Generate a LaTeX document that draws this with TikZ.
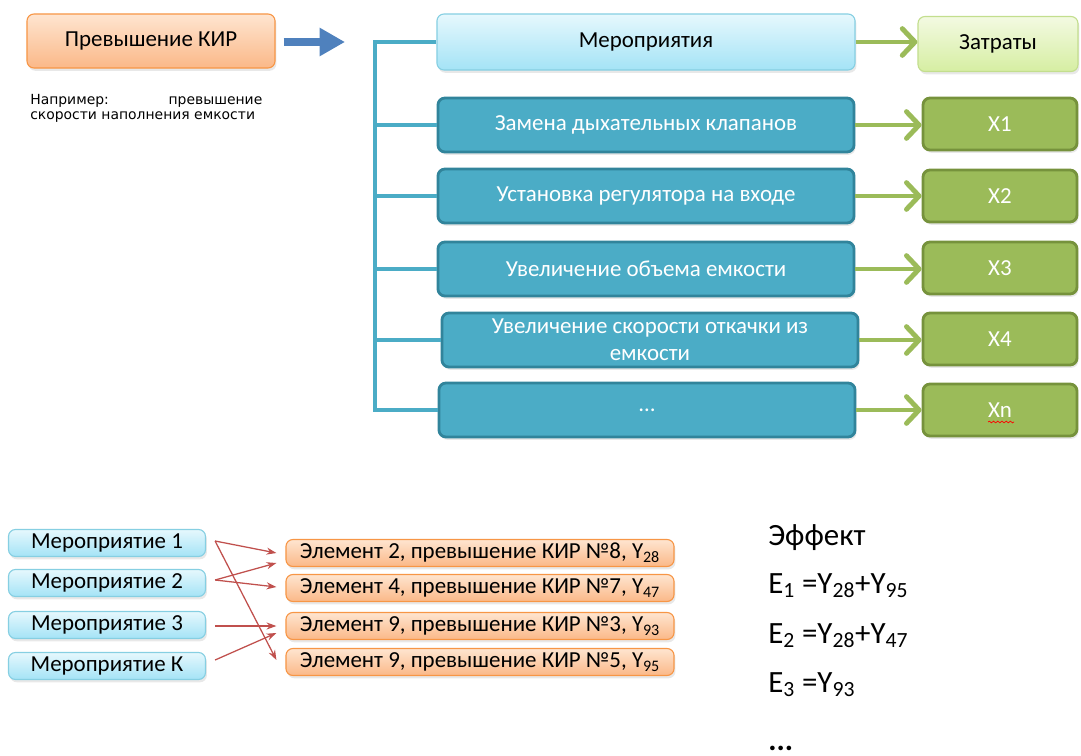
\documentclass[tikz,border=0pt]{standalone}
\usepackage{fontspec}
\setmainfont{Carlito}
\newfontfamily\notefont{DejaVu Sans}
\usetikzlibrary{shapes,arrows.meta,positioning,calc,shadows,decorations.pathmorphing}

\definecolor{kirline}{HTML}{F79646}
\definecolor{kirtop}{HTML}{FEE5D0}
\definecolor{kirbot}{HTML}{FBB888}
\definecolor{skyline}{HTML}{86CFE2}
\definecolor{skytop}{HTML}{E6F8FD}
\definecolor{skybot}{HTML}{A4E3F6}
\definecolor{tealfill}{HTML}{4BACC6}
\definecolor{tealline}{HTML}{31849B}
\definecolor{leaffill}{HTML}{9BBB59}
\definecolor{leafline}{HTML}{76923C}
\definecolor{limetop}{HTML}{F3FAE2}
\definecolor{limebot}{HTML}{D6EEA2}
\definecolor{limeline}{HTML}{C3DE8E}
\definecolor{arrowblue}{HTML}{4F81BD}
\definecolor{arrowred}{HTML}{C0504D}

\newcommand\boxfont{\fontsize{16.3}{19}\selectfont}
\newcommand\efffont{\fontsize{22}{26}\selectfont}

\tikzset{
    basebox/.style={rectangle, rounded corners=5pt, font=\boxfont, align=center, inner sep=2pt,
        drop shadow={shadow xshift=1pt, shadow yshift=-2pt, opacity=0.18}},
    orangebox/.style={basebox, draw=kirline, line width=0.8pt, top color=kirtop, bottom color=kirbot},
    skybox/.style={basebox, draw=skyline, line width=0.8pt, top color=skytop, bottom color=skybot},
    tealbox/.style={basebox, draw=tealline, line width=2pt, fill=tealfill, text=white,
        minimum width=10.4cm, minimum height=1.35cm},
    limebox/.style={basebox, draw=limeline, line width=0.8pt, top color=limetop, bottom color=limebot},
    leafbox/.style={basebox, draw=leafline, line width=2pt, fill=leaffill, text=white,
        minimum width=3.85cm, minimum height=1.3cm},
    busline/.style={draw=tealfill, line width=2.4pt},
    greenarrow/.style={draw=leaffill, line width=3.5pt, -{Straight Barb[length=9pt,width=19pt,round]}},
    bluearrow/.style={draw=arrowblue, line width=5.8pt, -{Triangle[length=18pt,width=19pt]}},
    redarrow/.style={draw=arrowred, line width=0.9pt, -{Stealth[length=7pt,width=5pt]}},
    efftext/.style={font=\efffont, anchor=base west, inner sep=0pt}
}

\begin{document}
\begin{tikzpicture}[x=0.025cm, y=-0.025cm]
    \useasboundingbox (0,0) rectangle (1081,756);

    % top left
    \node[orangebox, minimum width=6.2cm, minimum height=1.35cm] (kir) at (151,41) {Превышение КИР};
    \node[anchor=north west, inner sep=0pt, text width=5.8cm, align=justify,
          font=\notefont\fontsize{9.9}{10.8}\selectfont] (note) at (30,94)
          {Например: превышение скорости наполнения емкости};
    \coordinate (bluetip) at (345,42);
    \draw[bluearrow] ([shift={(8,1)}]kir.east) -- (bluetip);

    % measures
    \node[skybox, minimum width=10.45cm, minimum height=1.4cm] (act) at (646,42) {Мероприятия};
    \node[tealbox] (b1) at (646,125) {Замена дыхательных клапанов};
    \node[tealbox] (b2) at (646,196) {Установка регулятора на входе};
    \node[tealbox] (b3) at (646,269) {Увеличение объема емкости};
    \node[tealbox] (b4) at (650,340) {Увеличение скорости откачки из\\емкости};
    \node[tealbox] (dots) at (647,410) {…};

    \coordinate (bus) at (375,0);
    \draw[busline] (act.west) -| (bus |- dots.west) -- (dots.west);
    \foreach \n in {b1,b2,b3,b4}
        \draw[busline] (bus |- \n.west) -- (\n.west);

    % costs
    \node[limebox, minimum width=4cm, minimum height=1.375cm] (costs) at (998,44) {Затраты};
    \node[leafbox] (x1) at (1000,124) {X1};
    \node[leafbox] (x2) at (1000,196) {X2};
    \node[leafbox] (x3) at (1000,268) {X3};
    \node[leafbox] (x4) at (1000,339) {X4};
    \node[leafbox] (xn) at (1000,410) {Xn};
    \draw[red, line width=0.5pt, decorate, decoration={snake, amplitude=0.6pt, segment length=3pt}]
        ([shift={(-12,12)}]xn.center) -- ([shift={(14,12)}]xn.center);

    \draw[greenarrow] (act.east) -- (act.east -| costs.west);
    \foreach \a/\b in {b1/x1,b2/x2,b3/x3,b4/x4,dots/xn}
        \draw[greenarrow] (\a.east) -- (\a.east -| \b.west);

    % bottom left
    \node[skybox, minimum width=4.925cm, minimum height=0.675cm] (m1) at (107,543) {Мероприятие 1};
    \node[skybox, minimum width=4.925cm, minimum height=0.675cm] (m2) at (107,583) {Мероприятие 2};
    \node[skybox, minimum width=4.925cm, minimum height=0.675cm] (m3) at (107,625) {Мероприятие 3};
    \node[skybox, minimum width=4.925cm, minimum height=0.675cm] (mk) at (107,666) {Мероприятие К};

    \node[orangebox, minimum width=9.7cm, minimum height=0.675cm] (e1) at (480,553) {Элемент 2, превышение КИР №8, Y\textsubscript{28}};
    \node[orangebox, minimum width=9.7cm, minimum height=0.675cm] (e2) at (480,588) {Элемент 4, превышение КИР №7, Y\textsubscript{47}};
    \node[orangebox, minimum width=9.7cm, minimum height=0.675cm] (e3) at (480,626) {Элемент 9, превышение КИР №3, Y\textsubscript{93}};
    \node[orangebox, minimum width=9.7cm, minimum height=0.675cm] (e4) at (480,662) {Элемент 9, превышение КИР №5, Y\textsubscript{95}};

    \draw[redarrow] ([shift={(9,-2)}]m1.east) -- ([shift={(-9,0)}]e1.west);
    \draw[redarrow] ([shift={(9,-2)}]m1.east) -- ([shift={(-9,-2)}]e4.west);
    \draw[redarrow] ([shift={(9,-3)}]m2.east) -- ([shift={(-9,10)}]e1.west);
    \draw[redarrow] ([shift={(9,-3)}]m2.east) -- ([shift={(-9,-1)}]e2.west);
    \draw[redarrow] ([shift={(9,1)}]m3.east) -- ([shift={(-9,0)}]e3.west);
    \draw[redarrow] ([shift={(9,-6)}]mk.east) -- ([shift={(-9,7)}]e3.west);

    % effect
    \node[efftext] (eff) at (768,545) {Эффект};
    \node[efftext] (s1) at (768,593) {E\textsubscript{1} =Y\textsubscript{28}+Y\textsubscript{95}};
    \node[efftext] (s2) at (768,643) {E\textsubscript{2} =Y\textsubscript{28}+Y\textsubscript{47}};
    \node[efftext] (s3) at (768,692) {E\textsubscript{3} =Y\textsubscript{93}};
    \node[efftext] (more) at (768,750) {\textbf{...}};
\end{tikzpicture}
\end{document}
